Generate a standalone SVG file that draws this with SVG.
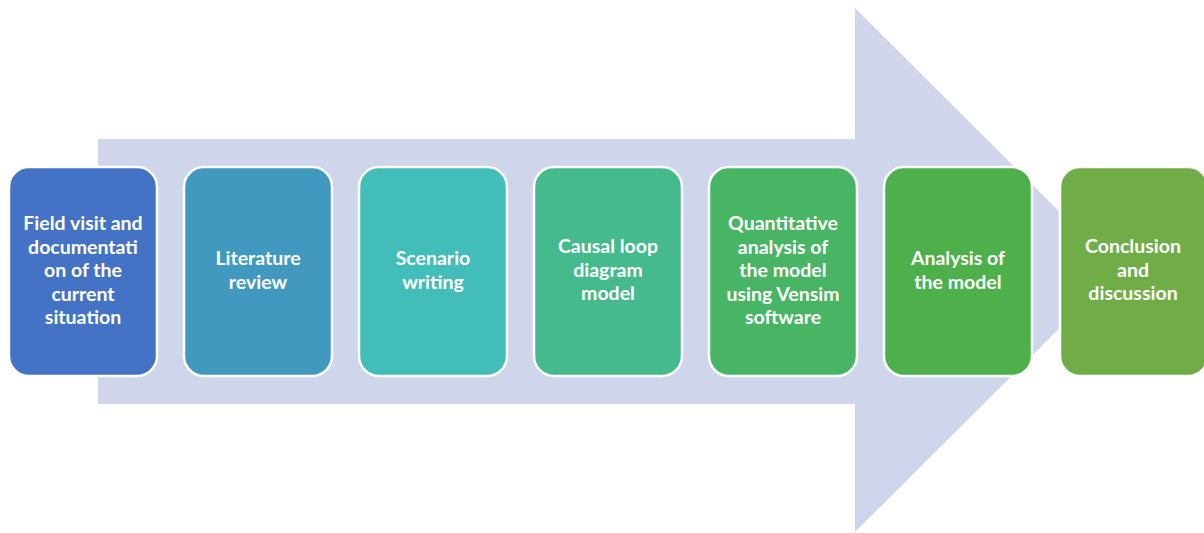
<svg xmlns="http://www.w3.org/2000/svg" width="1204" height="533" viewBox="0 0 1204 533">
<style>
.box{stroke:#ffffff;stroke-width:2.5}
.t{font-family:Lato,"Open Sans",sans-serif;font-weight:bold;font-size:19.5px;fill:#ffffff;text-anchor:middle}
</style>
<rect width="1204" height="533" fill="#ffffff"/>
<g id="arrow">
<polygon points="98,139 855,139 855,8 1118,270 855,532 855,404 98,404" fill="#CFD5EA"/>
</g>
<g id="n1"><rect class="box" x="9" y="167" width="148" height="209" rx="20" fill="#4472C4"/>
<text class="t" x="83" y="230">Field visit and</text><text class="t" x="83" y="254">documentati</text><text class="t" x="83" y="277">on of the</text><text class="t" x="83" y="301">current</text><text class="t" x="83" y="324">situation</text></g>
<g id="n2"><rect class="box" x="184" y="167" width="148" height="209" rx="20" fill="#4299C0"/>
<text class="t" x="258" y="265">Literature</text><text class="t" x="258" y="289">review</text></g>
<g id="n3"><rect class="box" x="359" y="167" width="148" height="209" rx="20" fill="#43BDBA"/>
<text class="t" x="433" y="265">Scenario</text><text class="t" x="433" y="289">writing</text></g>
<g id="n4"><rect class="box" x="534" y="167" width="148" height="209" rx="20" fill="#44BA8D"/>
<text class="t" x="608" y="253">Causal loop</text><text class="t" x="608" y="277">diagram</text><text class="t" x="608" y="300">model</text></g>
<g id="n5"><rect class="box" x="709" y="167" width="148" height="209" rx="20" fill="#47B564"/>
<text class="t" x="783" y="230">Quantitative</text><text class="t" x="783" y="254">analysis of</text><text class="t" x="783" y="277">the model</text><text class="t" x="783" y="301">using Vensim</text><text class="t" x="783" y="324">software</text></g>
<g id="n6"><rect class="box" x="884" y="167" width="148" height="209" rx="20" fill="#4DB04A"/>
<text class="t" x="958" y="265">Analysis of</text><text class="t" x="958" y="289">the model</text></g>
<g id="n7"><rect class="box" x="1060" y="167" width="148" height="209" rx="20" fill="#70AD47"/>
<text class="t" x="1133" y="253">Conclusion</text><text class="t" x="1133" y="277">and</text><text class="t" x="1133" y="300">discussion</text></g>
<g id="connectors"></g>
</svg>
